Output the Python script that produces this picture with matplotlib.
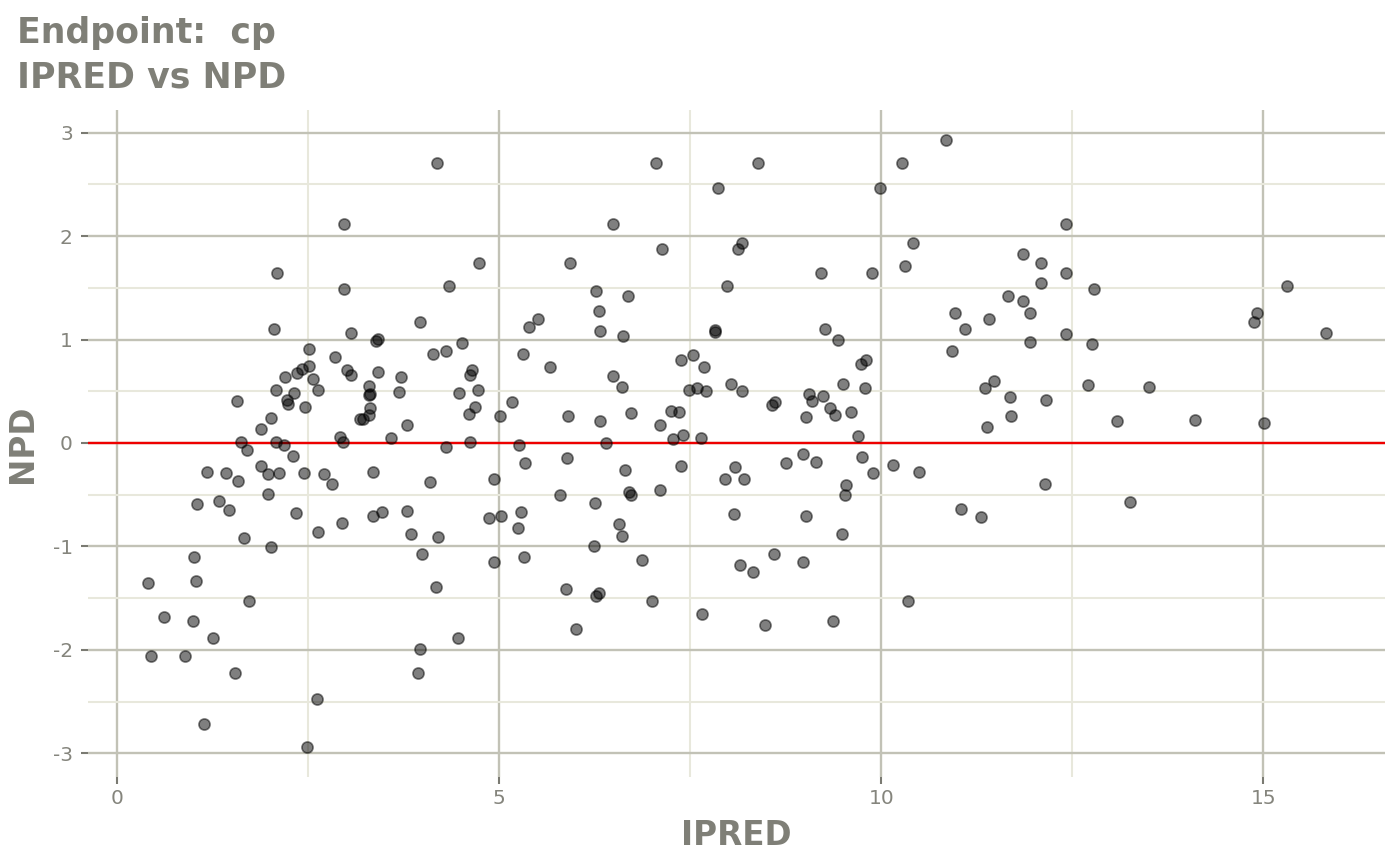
import matplotlib
matplotlib.use("Agg")
import matplotlib.pyplot as plt
from matplotlib.ticker import MultipleLocator

# IPRED, NPD pairs
ipred = [
    2.97, 2.09, 2.97, 2.05, 3.97, 3.06, 3.39, 3.42, 2.51, 2.85, 2.51, 2.42, 2.36, 2.20, 2.57,
    3.01, 3.06, 3.42, 3.72, 2.08, 2.32, 2.63, 3.30, 3.30, 3.31, 3.69, 2.22, 2.24, 2.46, 1.57,
    3.31, 3.30, 3.18, 3.22, 3.80, 2.01, 1.88, 2.92, 2.95, 3.59, 1.62, 2.08, 2.18, 1.70,
    1.88, 1.98, 2.12, 2.30, 2.44, 2.71, 2.81, 3.35, 1.18, 1.42, 1.58, 1.98, 1.04, 1.33, 1.47,
    2.34, 2.63, 2.94, 3.35, 3.47, 3.80, 3.84, 3.99, 4.10, 1.66, 2.01, 1.01, 0.40, 1.03, 1.72,
    0.62, 0.99, 1.25, 0.44, 0.89, 1.54, 3.96, 3.94, 2.62, 1.14, 2.49,
    4.19, 7.05, 7.86, 6.49, 7.13, 8.12, 8.18, 4.74, 5.93, 4.34, 6.27, 6.68, 7.98, 6.30, 5.51,
    5.39, 6.32, 6.62, 7.82, 7.82, 4.51, 4.14, 4.31, 5.31, 5.66, 4.65, 4.62, 7.38, 7.54, 7.68,
    6.49, 6.61, 8.03, 8.18, 7.48, 7.59, 7.70, 4.48, 4.72, 4.68, 4.61, 5.17, 5.01, 5.90, 6.32,
    6.73, 7.10, 7.25, 7.35, 7.28, 7.40, 7.64, 4.62, 4.31, 5.26, 6.40,
    5.34, 5.89, 6.64, 7.38, 8.09, 7.96, 8.20, 4.93, 5.79, 6.25, 6.70, 6.73, 7.11, 8.07, 4.87,
    5.03, 5.29, 5.25, 6.57, 6.61, 4.20, 6.24, 4.93, 5.33, 6.87, 8.15, 4.17, 5.87, 6.27, 6.30,
    7.00, 7.66, 6.00, 4.46,
    8.39, 10.27, 10.85, 9.98, 12.41, 10.42, 10.31, 11.86, 12.09, 12.09, 12.41, 9.21, 9.88,
    11.66, 11.86, 11.95, 10.96, 11.41, 11.09, 9.26, 9.43, 12.41, 11.94, 10.92, 9.73, 9.80,
    9.50, 9.79, 9.06, 9.09, 9.24, 9.33, 9.40, 9.60, 9.02, 9.70, 8.57, 8.61, 11.35, 11.48,
    11.68, 11.70, 11.38, 12.16,
    8.75, 8.98, 9.15, 9.75, 9.89, 10.15, 10.49, 9.54, 9.52, 9.01, 9.49, 8.59, 8.32, 8.98,
    10.35, 8.48, 9.37, 11.04, 11.31, 12.14,
    12.78, 12.76, 12.70, 13.50, 13.09, 14.10, 15.01, 14.91, 14.87, 15.31, 15.82, 13.26,
]
npd = [
    2.12, 1.64, 1.49, 1.10, 1.17, 1.06, 0.99, 1.01, 0.91, 0.83, 0.74, 0.72, 0.68, 0.64, 0.62,
    0.71, 0.66, 0.69, 0.64, 0.51, 0.48, 0.51, 0.55, 0.46, 0.47, 0.49, 0.42, 0.38, 0.35, 0.41,
    0.34, 0.27, 0.23, 0.23, 0.17, 0.24, 0.14, 0.06, 0.01, 0.05, 0.01, 0.01, -0.02, -0.07,
    -0.22, -0.30, -0.29, -0.13, -0.29, -0.30, -0.40, -0.28, -0.28, -0.29, -0.37, -0.49, -0.59,
    -0.56, -0.65, -0.68, -0.86, -0.77, -0.71, -0.67, -0.66, -0.88, -1.07, -0.38, -0.92, -1.01,
    -1.10, -1.35, -1.33, -1.53, -1.68, -1.72, -1.89, -2.06, -2.06, -2.22, -1.99, -2.22, -2.48,
    -2.72, -2.94,
    2.71, 2.71, 2.47, 2.12, 1.88, 1.88, 1.93, 1.74, 1.74, 1.52, 1.47, 1.42, 1.52, 1.28, 1.20,
    1.12, 1.08, 1.03, 1.09, 1.07, 0.97, 0.86, 0.89, 0.86, 0.73, 0.71, 0.66, 0.80, 0.85, 0.73,
    0.65, 0.54, 0.57, 0.50, 0.51, 0.53, 0.50, 0.48, 0.51, 0.35, 0.28, 0.40, 0.26, 0.26, 0.21,
    0.29, 0.17, 0.31, 0.30, 0.04, 0.08, 0.05, 0.01, -0.04, -0.02, 0.00,
    -0.19, -0.15, -0.26, -0.22, -0.23, -0.35, -0.35, -0.35, -0.50, -0.58, -0.47, -0.50, -0.45,
    -0.69, -0.73, -0.71, -0.67, -0.82, -0.78, -0.90, -0.91, -1.00, -1.15, -1.10, -1.13, -1.18,
    -1.39, -1.41, -1.48, -1.45, -1.53, -1.65, -1.80, -1.89,
    2.71, 2.71, 2.93, 2.47, 2.12, 1.93, 1.71, 1.83, 1.74, 1.55, 1.64, 1.64, 1.64, 1.42, 1.37,
    1.26, 1.26, 1.20, 1.10, 1.10, 1.00, 1.05, 0.98, 0.89, 0.76, 0.80, 0.57, 0.53, 0.47, 0.41,
    0.45, 0.34, 0.27, 0.30, 0.25, 0.07, 0.37, 0.40, 0.53, 0.60, 0.44, 0.26, 0.15, 0.42,
    -0.19, -0.11, -0.18, -0.14, -0.29, -0.21, -0.28, -0.41, -0.50, -0.71, -0.88, -1.07, -1.25,
    -1.15, -1.53, -1.76, -1.72, -0.64, -0.72, -0.40,
    1.49, 0.96, 0.56, 0.54, 0.21, 0.22, 0.19, 1.26, 1.17, 1.52, 1.06, -0.57,
]

x_ticks = [0, 5, 10, 15]
y_ticks = [-3, -2, -1, 0, 1, 2, 3]
title_lines = ["Endpoint:  cp", "IPRED vs NPD"]
x_label = "IPRED"
y_label = "NPD"

TXT = "#7f7f77"
MAJ = "#c2c2b6"
MIN = "#e8e8dc"

fig = plt.figure(figsize=(14, 8.65), dpi=100)
ax = fig.add_axes([88/1400, 1-777/865, (1385-88)/1400, (777-110)/865])

ax.set_xlim(-0.38, 16.59)
ax.set_ylim(-3.23, 3.22)
ax.xaxis.set_major_locator(MultipleLocator(5))
ax.xaxis.set_minor_locator(MultipleLocator(2.5))
ax.yaxis.set_major_locator(MultipleLocator(1))
ax.yaxis.set_minor_locator(MultipleLocator(0.5))
ax.set_xticks(x_ticks)
ax.set_yticks(y_ticks)
ax.set_yticklabels([str(v) for v in y_ticks])

ax.grid(which="major", color=MAJ, linewidth=1.7, zorder=0)
ax.grid(which="minor", color=MIN, linewidth=1.5, zorder=0)
ax.set_axisbelow(True)
for s in ax.spines.values():
    s.set_visible(False)

ax.tick_params(which="major", direction="out", length=5, width=1.5, color="#7a7a72",
               labelcolor="#85857d", labelsize=14.5)
ax.tick_params(axis="x", which="major", pad=3.5)
ax.tick_params(axis="y", which="major", pad=6)
ax.tick_params(which="minor", length=0)

ax.axhline(0, color="#ee0000", linewidth=1.7, zorder=2)
ax.scatter(ipred, npd, s=64, facecolor=(0, 0, 0, 0.5), edgecolor=(0, 0, 0, 0.5),
           linewidth=1.2, zorder=3)

ax.set_xlabel(x_label, fontsize=23.5, fontweight="bold", color=TXT, labelpad=8)
ax.set_ylabel(y_label, fontsize=23.5, fontweight="bold", color=TXT, labelpad=10)

fig.text(17/1400, 1-33/865, title_lines[0], fontsize=25, fontweight="bold", color=TXT,
         ha="left", va="center")
fig.text(17/1400, 1-78/865, title_lines[1], fontsize=25, fontweight="bold", color=TXT,
         ha="left", va="center")

fig.savefig("out.png", dpi=100)
